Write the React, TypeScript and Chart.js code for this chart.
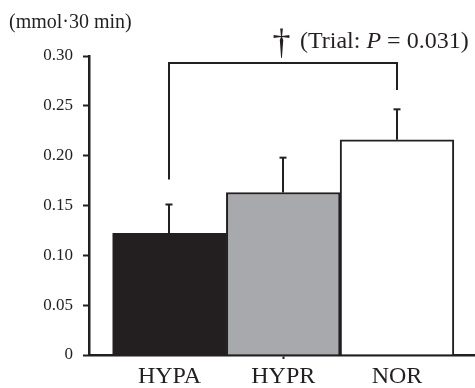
import React, { useEffect, useRef } from "react";
import { Chart, registerables } from "chart.js";

Chart.register(...registerables);

const categories = ["HYPA", "HYPR", "NOR"];
const means = [0.122, 0.163, 0.216];
const errorTops = [0.151, 0.198, 0.2465];
const barColors = ["#231f20", "#a7a9ac", "#ffffff"];
const yTicks = [0, 0.05, 0.1, 0.15, 0.2, 0.25, 0.3];
const unitLabel = "(mmol·30 min)";
const bracketFromTo = [0, 2];
const bracketLevels = [0.293, 0.176, 0.266]; // top, left leg end, right leg end
const annotationParts = ["(Trial: ", "P", " = 0.031)"];

const INK = "#231f20";
const SERIF = "'Liberation Serif', 'DejaVu Serif', serif";

const overlayPlugin = {
  id: "overlay",
  afterDatasetsDraw(chart: any) {
    const { ctx } = chart;
    const x = chart.scales.x;
    const y = chart.scales.y;
    ctx.save();
    ctx.strokeStyle = INK;
    ctx.fillStyle = INK;
    ctx.lineWidth = 2;
    ctx.lineCap = "butt";
    const seg = (x1: number, y1: number, x2: number, y2: number) => {
      ctx.beginPath();
      ctx.moveTo(x1, y1);
      ctx.lineTo(x2, y2);
      ctx.stroke();
    };
    // error bars (upper only)
    means.forEach((m, i) => {
      const px = Math.round(x.getPixelForValue(i));
      const yb = y.getPixelForValue(m);
      const yt = y.getPixelForValue(errorTops[i]);
      seg(px, yb, px, yt);
      seg(px - 3.5, yt, px + 3.5, yt);
    });
    // significance bracket
    const bx1 = Math.round(x.getPixelForValue(bracketFromTo[0]));
    const bx2 = Math.round(x.getPixelForValue(bracketFromTo[1]));
    const byTop = y.getPixelForValue(bracketLevels[0]);
    const byL = y.getPixelForValue(bracketLevels[1]);
    const byR = y.getPixelForValue(bracketLevels[2]);
    ctx.beginPath();
    ctx.moveTo(bx1, byL);
    ctx.lineTo(bx1, byTop);
    ctx.lineTo(bx2, byTop);
    ctx.lineTo(bx2, byR);
    ctx.stroke();

    // dagger + annotation
    const cx = (bx1 + bx2) / 2;
    ctx.textBaseline = "alphabetic";
    ctx.textAlign = "center";
    ctx.font = `36px ${SERIF}`;
    ctx.fillText("†", cx - 1.5, byTop - 9);

    ctx.textAlign = "left";
    let tx = cx + 17;
    const ty = byTop - 15;
    ctx.font = `24px ${SERIF}`;
    ctx.fillText(annotationParts[0], tx, ty);
    tx += ctx.measureText(annotationParts[0]).width;
    ctx.font = `italic 24px ${SERIF}`;
    ctx.fillText(annotationParts[1], tx, ty);
    tx += ctx.measureText(annotationParts[1]).width;
    ctx.font = `24px ${SERIF}`;
    ctx.fillText(annotationParts[2], tx, ty);

    // unit label
    ctx.font = `20px ${SERIF}`;
    ctx.fillText(unitLabel, 9, 28);
    ctx.restore();
  },
};

export default function App() {
  const canvasRef = useRef<HTMLCanvasElement | null>(null);

  useEffect(() => {
    const canvas = canvasRef.current;
    if (!canvas) return;
    const chart = new Chart(canvas, {
      type: "bar",
      data: {
        datasets: [
          {
            data: means.map((v, i) => ({ x: i, y: v })),
            backgroundColor: barColors,
            borderColor: INK,
            borderWidth: 2,
            barPercentage: 1,
            categoryPercentage: 1,
          },
        ],
      },
      options: {
        responsive: false,
        animation: false,
        events: [],
        layout: { padding: { top: 56, right: 0, left: 0, bottom: 0 } },
        plugins: {
          legend: { display: false },
          tooltip: { enabled: false },
          title: { display: false },
        },
        scales: {
          x: {
            type: "linear",
            offset: false,
            bounds: "data",
            min: -0.7077,
            max: 2.686,
            afterBuildTicks: (scale: any) => {
              scale.ticks = categories.map((_, i) => ({ value: i }));
            },
            afterFit: (scale: any) => {
              scale.height = 33;
              scale.paddingLeft = 0;
              scale.paddingRight = 0;
            },
            border: { display: true, color: INK, width: 2.5 },
            grid: {
              offset: false,
              drawOnChartArea: false,
              drawTicks: true,
              tickLength: 4,
              tickWidth: 2,
              tickColor: (ctx: any) =>
                ctx.tick && ctx.tick.value === 1 ? INK : "rgba(0,0,0,0)",
            },
            ticks: {
              autoSkip: false,
              maxRotation: 0,
              padding: 3,
              color: INK,
              font: { family: SERIF, size: 24 },
              callback: (v: any) => categories[Math.round(Number(v))] ?? "",
            },
          },
          y: {
            min: 0,
            max: 0.3,
            afterBuildTicks: (scale: any) => {
              scale.ticks = yTicks.map((v) => ({ value: v }));
            },
            afterFit: (scale: any) => {
              scale.width = 89;
            },
            border: { display: true, color: INK, width: 2.5 },
            grid: {
              drawOnChartArea: false,
              drawTicks: true,
              tickLength: 6,
              tickWidth: 2,
              tickColor: INK,
            },
            ticks: {
              padding: 10,
              color: INK,
              font: { family: SERIF, size: 17 },
              callback: (v: any) => (Number(v) === 0 ? "0" : Number(v).toFixed(2)),
            },
          },
        },
      },
      plugins: [overlayPlugin],
    } as any);
    return () => chart.destroy();
  }, []);

  return (
    <div style={{ position: "fixed", left: 0, top: 0, width: 475, height: 388, background: "#fff" }}>
      <canvas ref={canvasRef} width={475} height={388} />
    </div>
  );
}
